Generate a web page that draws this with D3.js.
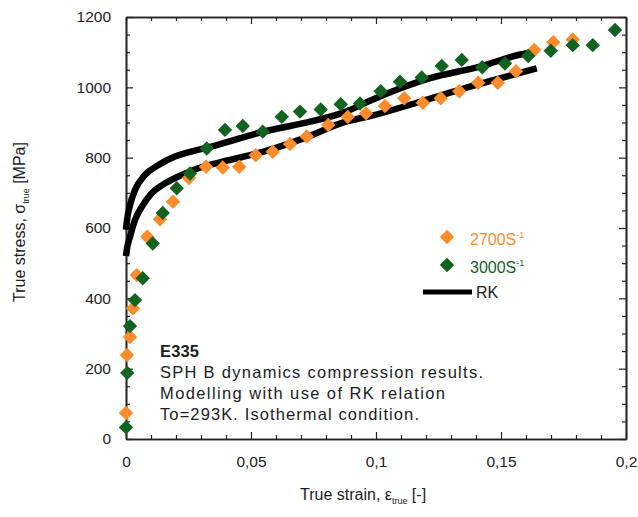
<!DOCTYPE html>
<html>
<head>
<meta charset="utf-8">
<script src="https://cdn.jsdelivr.net/npm/d3@7"></script>
<style>
  body { margin: 0; background: #fff; }
  svg { display: block; }
  text { font-family: "Liberation Sans", Arial, sans-serif; }
</style>
</head>
<body>
<svg id="chart" width="638" height="517"></svg>
<script>
// ---- data (strain, stress MPa) ----
const strain2700 = [0, 0.0004, 0.0016, 0.0028, 0.0043, 0.0085, 0.0136, 0.0188, 0.0252, 0.032, 0.0387, 0.0453, 0.0519, 0.0587, 0.0656, 0.0723, 0.0809, 0.0887, 0.096, 0.1036, 0.1113, 0.1187, 0.1259, 0.1333, 0.1409, 0.1487, 0.156, 0.1633, 0.1709, 0.1787];
const stress2700 = [74, 239, 290, 372, 466, 575, 625, 675, 742, 774, 772, 774, 807, 817, 839, 860, 893, 916, 926, 947, 969, 956, 969, 989, 1013, 1013, 1046, 1106, 1128, 1136];

const strain3000 = [0, 0.0005, 0.0016, 0.0036, 0.0067, 0.0107, 0.0147, 0.0203, 0.0256, 0.0323, 0.0396, 0.0467, 0.0547, 0.0623, 0.0696, 0.0779, 0.0859, 0.0936, 0.1019, 0.1096, 0.1183, 0.1263, 0.1343, 0.1425, 0.1516, 0.1609, 0.1699, 0.1787, 0.1867, 0.1956];
const stress3000 = [33, 188, 321, 395, 457, 556, 643, 713, 755, 826, 879, 890, 874, 916, 931, 937, 952, 954, 989, 1016, 1028, 1061, 1078, 1057, 1068, 1089, 1104, 1120, 1120, 1163];

const rkStrainUpper = [0, 0.0004, 0.0016, 0.0036, 0.0076, 0.013, 0.0196, 0.0276, 0.036, 0.055, 0.071, 0.088, 0.0976, 0.1216, 0.1416, 0.1603, 0.164];
const rkStressUpper = [595, 622, 665, 708, 751, 779, 803, 820, 835, 874, 898, 931, 962, 1026, 1059, 1097, 1100];

const rkStrainLower = [0, 0.0005, 0.0016, 0.0036, 0.0063, 0.0103, 0.0156, 0.0223, 0.0289, 0.0383, 0.055, 0.071, 0.0883, 0.0976, 0.1176, 0.1376, 0.1643];
const rkStressLower = [520, 545, 575, 623, 660, 699, 727, 751, 770, 788, 817, 855, 903, 918, 959, 1002, 1054];

const xMajorTicks = [0, 0.05, 0.1, 0.15, 0.2];
const xTickLabels = ["0", "0,05", "0,1", "0,15", "0,2"];
const yMajorTicks = [0, 200, 400, 600, 800, 1000, 1200];
const yTickLabels = ["0", "200", "400", "600", "800", "1000", "1200"];

const annotationLines = ["E335", "SPH B dynamics compression results.", "Modelling with use of RK relation", "To=293K. Isothermal condition."];
const annotationWidths = [39, 323, 285, 259];

// ---- layout ----
const svg = d3.select("#chart");
const L = 126, R = 626, T = 17, B = 439;
const x = d3.scaleLinear().domain([0, 0.2]).range([L, R]);
const y = d3.scaleLinear().domain([0, 1200]).range([B, T]);

const ORANGE = "#fb8b2b";
const GREEN = "#11631f";
const AXIS = "#222";
const TEXT = "#1c1c24";

const xMinor = d3.range(0, 0.2001, 0.01).filter(v => Math.abs(v / 0.05 - Math.round(v / 0.05)) > 1e-6);
const yMinor = d3.range(0, 1201, 50).filter(v => v % 200 !== 0);

function styleAxis(g) {
  g.selectAll(".domain").attr("stroke", AXIS).attr("stroke-width", 1.6);
  g.selectAll(".tick line").attr("stroke", AXIS).attr("stroke-width", 1.2);
  g.selectAll("text").attr("fill", TEXT).attr("font-size", "15.5px")
    .attr("font-family", '"Liberation Sans", Arial, sans-serif');
}

const fmtX = v => xTickLabels[xMajorTicks.findIndex(t => Math.abs(t - v) < 1e-9)];
const fmtY = v => yTickLabels[yMajorTicks.indexOf(v)];

// bottom
svg.append("g").attr("transform", `translate(0,${B})`)
  .call(d3.axisBottom(x).tickValues(xMajorTicks).tickSizeInner(-7).tickSizeOuter(0).tickPadding(17).tickFormat(fmtX))
  .call(styleAxis);
svg.append("g").attr("transform", `translate(0,${B})`)
  .call(d3.axisBottom(x).tickValues(xMinor).tickSizeInner(-4).tickSizeOuter(0).tickFormat(""))
  .call(styleAxis);
// top
svg.append("g").attr("transform", `translate(0,${T})`)
  .call(d3.axisTop(x).tickValues(xMajorTicks).tickSizeInner(-7).tickSizeOuter(0).tickFormat(""))
  .call(styleAxis);
svg.append("g").attr("transform", `translate(0,${T})`)
  .call(d3.axisTop(x).tickValues(xMinor).tickSizeInner(-4).tickSizeOuter(0).tickFormat(""))
  .call(styleAxis);
// left
svg.append("g").attr("transform", `translate(${L},0)`)
  .call(d3.axisLeft(y).tickValues(yMajorTicks).tickSizeInner(-7).tickSizeOuter(0).tickPadding(15).tickFormat(fmtY))
  .call(styleAxis);
svg.append("g").attr("transform", `translate(${L},0)`)
  .call(d3.axisLeft(y).tickValues(yMinor).tickSizeInner(-4).tickSizeOuter(0).tickFormat(""))
  .call(styleAxis);
// right
svg.append("g").attr("transform", `translate(${R},0)`)
  .call(d3.axisRight(y).tickValues(yMajorTicks).tickSizeInner(-7).tickSizeOuter(0).tickFormat(""))
  .call(styleAxis);
svg.append("g").attr("transform", `translate(${R},0)`)
  .call(d3.axisRight(y).tickValues(yMinor).tickSizeInner(-4).tickSizeOuter(0).tickFormat(""))
  .call(styleAxis);

// ---- RK curves ----
const line = d3.line().x(d => x(d[0])).y(d => y(d[1])).curve(d3.curveMonotoneX);
[[rkStrainUpper, rkStressUpper], [rkStrainLower, rkStressLower]].forEach(([xs, ys]) => {
  svg.append("path")
    .datum(xs.map((v, i) => [v, ys[i]]))
    .attr("d", line)
    .attr("fill", "none")
    .attr("stroke", "#000")
    .attr("stroke-width", 6.5);
});

// ---- markers ----
const diamond = d3.symbol().type(d3.symbolSquare).size(104);
function drawSeries(xs, ys, color) {
  svg.append("g").selectAll("path")
    .data(xs.map((v, i) => [v, ys[i]]))
    .join("path")
    .attr("d", diamond)
    .attr("transform", d => `translate(${x(d[0])},${y(d[1])}) rotate(45)`)
    .attr("fill", color);
}
drawSeries(strain2700, stress2700, ORANGE);
drawSeries(strain3000, stress3000, GREEN);

// ---- legend ----
const lg = svg.append("g");
lg.append("path").attr("d", diamond).attr("transform", "translate(447,237) rotate(45)").attr("fill", ORANGE);
lg.append("path").attr("d", diamond).attr("transform", "translate(447,265) rotate(45)").attr("fill", GREEN);
const t1 = lg.append("text").attr("x", 470).attr("y", 245).attr("font-size", "16px").attr("fill", ORANGE);
t1.append("tspan").text("2700S");
t1.append("tspan").attr("font-size", "9px").attr("dy", -7).text("-1");
const t2 = lg.append("text").attr("x", 470).attr("y", 273).attr("font-size", "16px").attr("fill", GREEN);
t2.append("tspan").text("3000S");
t2.append("tspan").attr("font-size", "9px").attr("dy", -7).text("-1");
lg.append("line").attr("x1", 423).attr("x2", 472).attr("y1", 292).attr("y2", 292)
  .attr("stroke", "#000").attr("stroke-width", 5);
lg.append("text").attr("x", 476).attr("y", 298).attr("font-size", "16px").attr("fill", TEXT).text("RK");

// ---- annotation ----
const ann = svg.append("g");
annotationLines.forEach((s, i) => {
  ann.append("text").attr("x", 160).attr("y", 357 + i * 21)
    .attr("font-size", "16.5px").attr("fill", TEXT)
    .attr("font-weight", i === 0 ? "bold" : "normal")
    .attr("textLength", annotationWidths[i])
    .attr("lengthAdjust", "spacing")
    .text(s);
});

// ---- axis titles ----
const xt = svg.append("text").attr("x", 300).attr("y", 500).attr("text-anchor", "start")
  .attr("font-size", "16px").attr("fill", TEXT);
xt.append("tspan").text("True strain, ε");
xt.append("tspan").attr("font-size", "9px").attr("dy", 4).text("true");
xt.append("tspan").attr("dy", -4).text(" [-]");

const yt = svg.append("text").attr("transform", "translate(25,302) rotate(-90)").attr("text-anchor", "start")
  .attr("font-size", "16px").attr("fill", TEXT);
yt.append("tspan").text("True stress, σ");
yt.append("tspan").attr("font-size", "9px").attr("dy", 4).text("true");
yt.append("tspan").attr("dy", -4).text(" [MPa]");
</script>
</body>
</html>
